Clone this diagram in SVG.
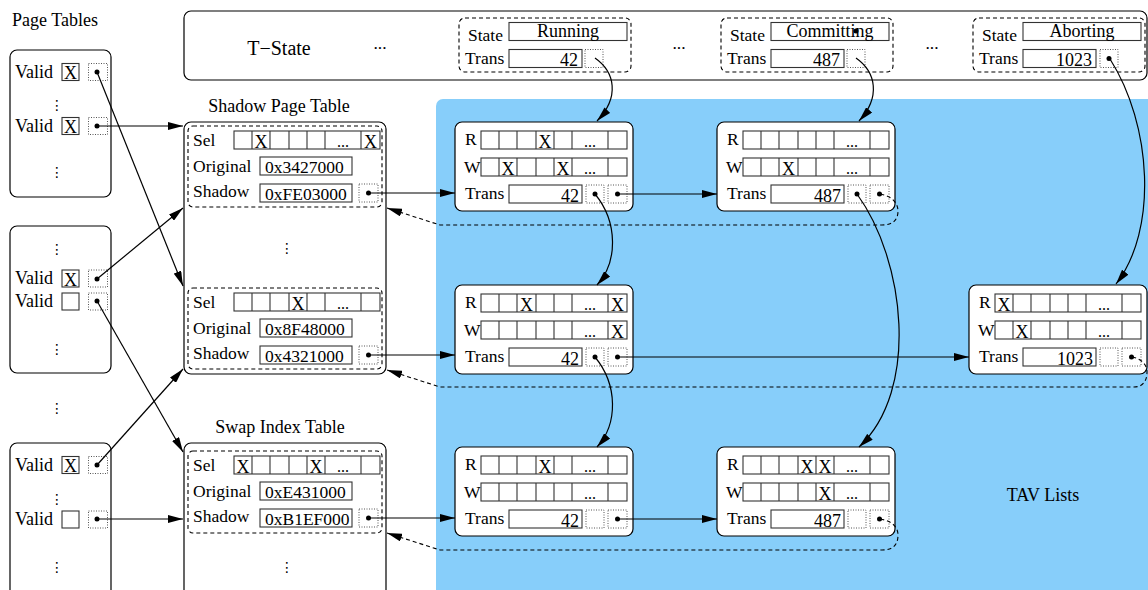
<svg xmlns="http://www.w3.org/2000/svg" xmlns:xlink="http://www.w3.org/1999/xlink" width="1148" height="590" viewBox="0 0 1148 590">
<style>
.t{font-family:"Liberation Serif","Times New Roman",serif;font-size:17.5px;fill:#000}
.ttl{font-size:18px}
.x{font-family:"Liberation Serif","Times New Roman",serif;font-size:18px;fill:#000;text-anchor:middle}
.el{font-family:"Liberation Serif","Times New Roman",serif;font-size:16px;fill:#000;text-anchor:middle}
.vd{font-family:"DejaVu Sans",sans-serif;font-size:14px;fill:#000;text-anchor:middle}
.m{text-anchor:middle}
.e{text-anchor:end}
.box{fill:#fff;stroke:#000;stroke-width:1.2}
.dash{fill:none;stroke:#000;stroke-width:1.1;stroke-dasharray:4 3}
.cell{fill:#fff;stroke:#333;stroke-width:1.1}
.dotb{fill:#fff;stroke:#555;stroke-width:1;stroke-dasharray:1 1.5}
.ln{fill:none;stroke:#000;stroke-width:1.2;marker-end:url(#ah)}
.ldash{fill:none;stroke:#000;stroke-width:1.1;stroke-dasharray:4 3;marker-end:url(#ah)}
</style>
<defs>
<marker id="ah" viewBox="0 0 15 8" refX="15" refY="4" markerWidth="15" markerHeight="8" markerUnits="userSpaceOnUse" orient="auto"><path d="M0,0 L15,4 L0,8 z" fill="#000"/></marker>
<g id="row"><rect class="cell" x="0" y="0" width="146" height="18"/><path d="M18,0v18M36,0v18M55,0v18M73,0v18M91,0v18M127,0v18" stroke="#333" stroke-width="1.1" fill="none"/></g>
</defs>

<rect id="tav-area" x="436" y="99" width="720" height="500" rx="7" fill="#87CEFA"/>
<text class="t ttl" x="1043" y="501" text-anchor="middle">TAV Lists</text>

<!-- T-State -->
<g id="tstate">
<rect class="box" x="184" y="11" width="963" height="69" rx="7"/>
<text class="t m" x="279" y="55" style="font-size:20px">T−State</text>
<text class="t m" x="380" y="49">...</text>
<text class="t m" x="679" y="49">...</text>
<text class="t m" x="932" y="49">...</text>
</g>
<g id="txn-running" transform="translate(459,18)">
<rect class="dash" x="0" y="0" width="172" height="54" rx="6"/>
<text class="t" x="9" y="23">State</text>
<rect class="cell" x="50" y="4.5" width="118" height="18"/>
<text class="t m ttl" x="109" y="19">Running</text>
<text class="t" x="6" y="46">Trans</text>
<rect class="cell" x="50" y="31.5" width="73" height="18"/>
<text class="t e ttl" x="119" y="48">42</text>
<rect class="dotb" x="126" y="31.5" width="18" height="18"/>
</g>
<g id="txn-committing" transform="translate(721,18)">
<rect class="dash" x="0" y="0" width="172" height="54" rx="6"/>
<text class="t" x="9" y="23">State</text>
<rect class="cell" x="50" y="4.5" width="118" height="18"/>
<text class="t m ttl" x="109" y="19">Committing</text>
<circle cx="135" cy="13" r="2.5"/>
<text class="t" x="6" y="46">Trans</text>
<rect class="cell" x="50" y="31.5" width="73" height="18"/>
<text class="t e ttl" x="119" y="48">487</text>
<rect class="dotb" x="126" y="31.5" width="18" height="18"/>
</g>
<g id="txn-aborting" transform="translate(973,18)">
<rect class="dash" x="0" y="0" width="172" height="54" rx="6"/>
<text class="t" x="9" y="23">State</text>
<rect class="cell" x="50" y="4.5" width="118" height="18"/>
<text class="t m ttl" x="109" y="19">Aborting</text>
<text class="t" x="6" y="46">Trans</text>
<rect class="cell" x="50" y="31.5" width="73" height="18"/>
<text class="t e ttl" x="119" y="48">1023</text>
<rect class="dotb" x="127" y="31.5" width="18" height="18"/>
<circle cx="136" cy="40.5" r="2.5"/>
</g>

<!-- Page tables -->
<text class="t ttl" x="12" y="26">Page Tables</text>
<g id="pt1">
<rect class="box" x="10" y="50" width="101" height="147" rx="7"/>
<text class="t ttl" x="15" y="78">Valid</text><rect class="cell" x="62" y="63.5" width="17" height="17"/><text class="x" x="70.5" y="79">X</text>
<rect class="dotb" x="88.5" y="63.5" width="19" height="17"/><circle cx="97" cy="72" r="2.5"/>
<text class="vd" x="57" y="110">⋮</text>
<text class="t ttl" x="15" y="132">Valid</text><rect class="cell" x="62" y="117.5" width="17" height="17"/><text class="x" x="70.5" y="133">X</text>
<rect class="dotb" x="88.5" y="117.5" width="19" height="17"/><circle cx="97" cy="126" r="2.5"/>
<text class="vd" x="57" y="177">⋮</text>
</g>
<g id="pt2">
<rect class="box" x="10" y="226" width="101" height="147" rx="7"/>
<text class="vd" x="57" y="254">⋮</text>
<text class="t ttl" x="15" y="284">Valid</text><rect class="cell" x="62" y="270" width="17" height="17"/><text class="x" x="70.5" y="285.5">X</text>
<rect class="dotb" x="88.5" y="270" width="19" height="17"/><circle cx="97" cy="279" r="2.5"/>
<text class="t ttl" x="15" y="307">Valid</text><rect class="cell" x="62" y="293" width="17" height="17"/>
<rect class="dotb" x="88.5" y="293" width="19" height="17"/><circle cx="97" cy="301" r="2.5"/>
<text class="vd" x="57" y="354">⋮</text>
</g>
<text class="vd" x="57" y="413">⋮</text>
<g id="pt3">
<rect class="box" x="10" y="443" width="101" height="160" rx="7"/>
<text class="t ttl" x="15" y="471">Valid</text><rect class="cell" x="62" y="456.5" width="17" height="17"/><text class="x" x="70.5" y="472">X</text>
<rect class="dotb" x="88.5" y="456.5" width="19" height="17"/><circle cx="97" cy="465" r="2.5"/>
<text class="vd" x="57" y="504">⋮</text>
<text class="t ttl" x="15" y="525">Valid</text><rect class="cell" x="62" y="511" width="17" height="17"/>
<rect class="dotb" x="88.5" y="511" width="19" height="17"/><circle cx="97" cy="519" r="2.5"/>
<text class="vd" x="57" y="572">⋮</text>
</g>

<!-- Shadow Page Table -->
<g id="spt">
<text class="t m ttl" x="279" y="112">Shadow Page Table</text>
<rect class="box" x="184" y="122" width="202" height="252" rx="7"/>
<text class="vd" x="287" y="253">⋮</text>
</g>
<g id="spt-entry1" transform="translate(0,126)">
<rect class="dash" x="188" y="0" width="194" height="81" rx="5"/>
<text class="t" x="193" y="20">Sel</text>
<use xlink:href="#row" href="#row" x="234" y="5"/>
<text class="x" x="261" y="22">X</text><text class="el" x="343" y="21">...</text><text class="x" x="370.5" y="22">X</text>
<text class="t" x="193" y="46">Original</text>
<rect class="cell" x="260" y="31" width="92" height="18"/><text class="t" x="265" y="47">0x3427000</text>
<text class="t" x="193" y="71">Shadow</text>
<rect class="cell" x="260" y="58" width="92" height="18"/><text class="t" x="265" y="74">0xFE03000</text>
<rect class="dotb" x="359" y="58" width="19" height="18"/><circle cx="368.5" cy="67" r="2.5"/>
</g>
<g id="spt-entry2" transform="translate(0,288)">
<rect class="dash" x="188" y="0" width="194" height="81" rx="5"/>
<text class="t" x="193" y="20">Sel</text>
<use xlink:href="#row" href="#row" x="234" y="5"/>
<text class="x" x="298" y="22">X</text><text class="el" x="343" y="21">...</text>
<text class="t" x="193" y="46">Original</text>
<rect class="cell" x="260" y="31" width="92" height="18"/><text class="t" x="265" y="47">0x8F48000</text>
<text class="t" x="193" y="71">Shadow</text>
<rect class="cell" x="260" y="58" width="92" height="18"/><text class="t" x="265" y="74">0x4321000</text>
<rect class="dotb" x="359" y="58" width="19" height="18"/><circle cx="368.5" cy="67" r="2.5"/>
</g>

<!-- Swap Index Table -->
<g id="swap">
<text class="t m ttl" x="280" y="433">Swap Index Table</text>
<rect class="box" x="184" y="443" width="202" height="160" rx="7"/>
<text class="vd" x="287" y="572">⋮</text>
</g>
<g id="swap-entry" transform="translate(0,451)">
<rect class="dash" x="188" y="0" width="194" height="82" rx="5"/>
<text class="t" x="193" y="20">Sel</text>
<use xlink:href="#row" href="#row" x="234" y="5"/>
<text class="x" x="243" y="22">X</text><text class="x" x="316" y="22">X</text><text class="el" x="343" y="21">...</text>
<text class="t" x="193" y="46">Original</text>
<rect class="cell" x="260" y="31" width="92" height="18"/><text class="t" x="265" y="47">0xE431000</text>
<text class="t" x="193" y="71">Shadow</text>
<rect class="cell" x="260" y="58" width="92" height="18"/><text class="t" x="265" y="74">0xB1EF000</text>
<rect class="dotb" x="359" y="58" width="19" height="18"/><circle cx="368.5" cy="67" r="2.5"/>
</g>

<!-- TAV nodes -->
<g id="tav-1-1" transform="translate(455,122)">
<rect class="box" x="0" y="0" width="178" height="89" rx="7"/>
<text class="t" x="10" y="23">R</text><use xlink:href="#row" href="#row" x="26" y="9"/>
<text class="t" x="9" y="51">W</text><use xlink:href="#row" href="#row" x="26" y="36"/>
<text class="x" x="90" y="26">X</text><text class="el" x="135" y="25">...</text>
<text class="x" x="53" y="53">X</text><text class="x" x="108" y="53">X</text><text class="el" x="135" y="52">...</text>
<text class="t" x="10" y="77">Trans</text>
<rect class="cell" x="54" y="63" width="73" height="18"/><text class="t e ttl" x="124" y="80">42</text>
<rect class="dotb" x="131" y="63" width="18" height="18"/><rect class="dotb" x="153" y="63" width="19" height="18"/>
<circle cx="140" cy="72" r="2.5"/><circle cx="162.5" cy="72" r="2.5"/>
</g>
<g id="tav-1-2" transform="translate(717,122)">
<rect class="box" x="0" y="0" width="178" height="89" rx="7"/>
<text class="t" x="10" y="23">R</text><use xlink:href="#row" href="#row" x="26" y="9"/>
<text class="t" x="9" y="51">W</text><use xlink:href="#row" href="#row" x="26" y="36"/>
<text class="el" x="135" y="25">...</text>
<text class="x" x="71.5" y="53">X</text><text class="el" x="135" y="52">...</text>
<text class="t" x="10" y="77">Trans</text>
<rect class="cell" x="54" y="63" width="73" height="18"/><text class="t e ttl" x="124" y="80">487</text>
<rect class="dotb" x="131" y="63" width="18" height="18"/><rect class="dotb" x="153" y="63" width="19" height="18"/>
<circle cx="140" cy="72" r="2.5"/><circle cx="162.5" cy="72" r="2.5"/>
</g>
<g id="tav-2-1" transform="translate(455,285)">
<rect class="box" x="0" y="0" width="178" height="89" rx="7"/>
<text class="t" x="10" y="23">R</text><use xlink:href="#row" href="#row" x="26" y="9"/>
<text class="t" x="9" y="51">W</text><use xlink:href="#row" href="#row" x="26" y="36"/>
<text class="x" x="71.5" y="26">X</text><text class="el" x="135" y="25">...</text><text class="x" x="162.5" y="26">X</text>
<text class="el" x="135" y="52">...</text><text class="x" x="162.5" y="53">X</text>
<text class="t" x="10" y="77">Trans</text>
<rect class="cell" x="54" y="63" width="73" height="18"/><text class="t e ttl" x="124" y="80">42</text>
<rect class="dotb" x="131" y="63" width="18" height="18"/><rect class="dotb" x="153" y="63" width="19" height="18"/>
<circle cx="140" cy="72" r="2.5"/><circle cx="162.5" cy="72" r="2.5"/>
</g>
<g id="tav-2-3" transform="translate(969,285)">
<rect class="box" x="0" y="0" width="178" height="89" rx="7"/>
<text class="t" x="10" y="23">R</text><use xlink:href="#row" href="#row" x="26" y="9"/>
<text class="t" x="9" y="51">W</text><use xlink:href="#row" href="#row" x="26" y="36"/>
<text class="x" x="35" y="26">X</text><text class="el" x="135" y="25">...</text>
<text class="x" x="53" y="53">X</text><text class="el" x="135" y="52">...</text>
<text class="t" x="10" y="77">Trans</text>
<rect class="cell" x="54" y="63" width="73" height="18"/><text class="t e ttl" x="124" y="80">1023</text>
<rect class="dotb" x="131" y="63" width="18" height="18"/><rect class="dotb" x="153" y="63" width="19" height="18"/>
<circle cx="162.5" cy="72" r="2.5"/>
</g>
<g id="tav-3-1" transform="translate(455,447)">
<rect class="box" x="0" y="0" width="178" height="89" rx="7"/>
<text class="t" x="10" y="23">R</text><use xlink:href="#row" href="#row" x="26" y="9"/>
<text class="t" x="9" y="51">W</text><use xlink:href="#row" href="#row" x="26" y="36"/>
<text class="x" x="90" y="26">X</text><text class="el" x="135" y="25">...</text>
<text class="el" x="135" y="52">...</text>
<text class="t" x="10" y="77">Trans</text>
<rect class="cell" x="54" y="63" width="73" height="18"/><text class="t e ttl" x="124" y="80">42</text>
<rect class="dotb" x="131" y="63" width="18" height="18"/><rect class="dotb" x="153" y="63" width="19" height="18"/>
<circle cx="162.5" cy="72" r="2.5"/>
</g>
<g id="tav-3-2" transform="translate(717,447)">
<rect class="box" x="0" y="0" width="178" height="89" rx="7"/>
<text class="t" x="10" y="23">R</text><use xlink:href="#row" href="#row" x="26" y="9"/>
<text class="t" x="9" y="51">W</text><use xlink:href="#row" href="#row" x="26" y="36"/>
<text class="x" x="90" y="26">X</text><text class="x" x="108" y="26">X</text><text class="el" x="135" y="25">...</text>
<text class="x" x="108" y="53">X</text><text class="el" x="135" y="52">...</text>
<text class="t" x="10" y="77">Trans</text>
<rect class="cell" x="54" y="63" width="73" height="18"/><text class="t e ttl" x="124" y="80">487</text>
<rect class="dotb" x="131" y="63" width="18" height="18"/><rect class="dotb" x="153" y="63" width="19" height="18"/>
<circle cx="162.5" cy="72" r="2.5"/>
</g>

<!-- Connectors -->
<g id="connectors">
<path class="ln" d="M97,72 L183,286"/>
<path class="ln" d="M97,126 L183,126"/>
<path class="ln" d="M97,279 L183,208"/>
<path class="ln" d="M97,301 L183,452"/>
<path class="ln" d="M97,465 L183,369"/>
<path class="ln" d="M97,519 L183,519"/>
<path class="ln" d="M368.5,193 L455,193"/>
<path class="ln" d="M368.5,355 L455,355"/>
<path class="ln" d="M368.5,518 L455,518"/>
<path class="ln" d="M617.5,194 L717,194"/>
<path class="ln" d="M617.5,357 L969,357"/>
<path class="ln" d="M617.5,519 L717,519"/>
<path class="ln" d="M595,194 C618,222 618,262 597,285"/>
<path class="ln" d="M595,357 C618,385 618,424 597,447"/>
<path class="ln" d="M857,194 C905,260 920,390 859,447"/>
<path class="ln" d="M595,58 C615,72 620,97 597,121"/>
<path class="ln" d="M856,58 C876,72 881,97 859,121"/>
<path class="ln" d="M1110,59 C1152,125 1158,230 1116,284"/>
<path class="ldash" d="M880,194 C893,196 898,204 898,211 C898,220 893,225 882,225 L440,225 L387,208"/>
<path class="ldash" d="M1132,357 C1143,359 1147,366 1147,372 C1147,382 1142,387 1134,387 L440,387 L387,370"/>
<path class="ldash" d="M880,519 C893,521 898,528 898,535 C898,545 893,550 882,550 L440,550 L387,533"/>
</g>
</svg>
